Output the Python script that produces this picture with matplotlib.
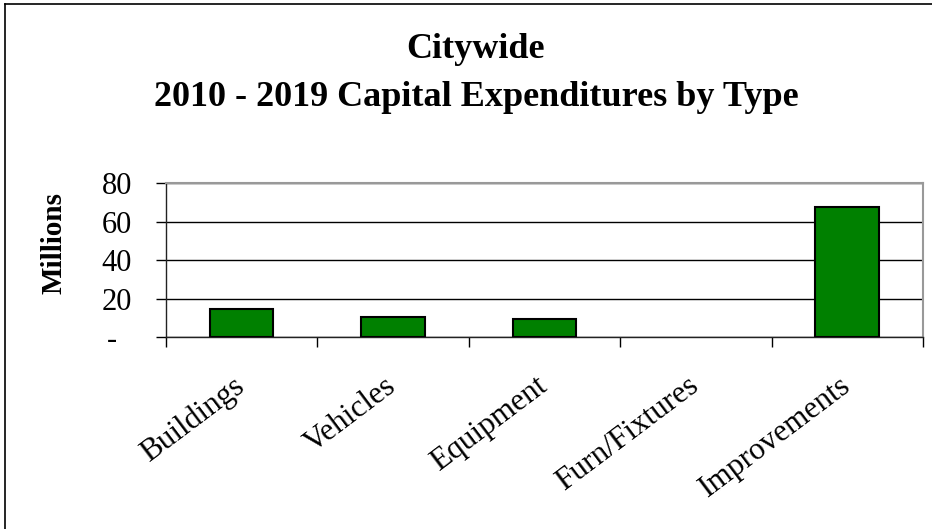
import matplotlib.pyplot as plt
from matplotlib.lines import Line2D

categories = ['Buildings', 'Vehicles', 'Equipment', 'Furn/Fixtures', 'Improvements']
values = [14.4, 10.5, 9.5, 0.0, 67.5]
y_ticks = [0, 20, 40, 60, 80]
y_tick_labels = ['-  ', '20', '40', '60', '80']

plt.rcParams['font.family'] = ['Liberation Serif', 'DejaVu Serif']

fig = plt.figure(figsize=(9.32, 5.29), dpi=100)
ax = fig.add_axes([0.1781, 0.3629, 0.8122, 0.2906])

# zero values get no visible bar
x = list(range(len(categories)))
bx = [i for i, v in zip(x, values) if v > 0]
bv = [v for v in values if v > 0]
ax.bar(bx, bv, width=0.42, color='#008000', edgecolor='black', linewidth=1.5, zorder=3)

ax.set_xlim(-0.5, len(categories) - 0.5)
ax.set_ylim(0, 80)

# gridlines
ax.set_yticks(y_ticks)
ax.set_yticklabels(y_tick_labels)
ax.grid(axis='y', color='black', linewidth=1, zorder=1)
ax.tick_params(axis='y', direction='out', length=7.5, width=1, pad=17, labelsize=22)

# category boundaries as major ticks, labels on minor ticks at centers
ax.set_xticks([i - 0.5 for i in range(len(categories) + 1)])
ax.set_xticklabels([])
ax.tick_params(axis='x', which='major', direction='out', length=7.5, width=1)
ax.set_xticks(x, categories, minor=True)
ax.tick_params(axis='x', which='minor', length=0, pad=33, labelsize=22.5)
for lab in ax.get_xticklabels(minor=True):
    lab.set_rotation(37)
    lab.set_ha('right')
    lab.set_va('center')
    lab.set_rotation_mode('anchor')

for side in ['left', 'bottom']:
    ax.spines[side].set_color('#222222')
    ax.spines[side].set_linewidth(1)
for side in ['top', 'right']:
    ax.spines[side].set_color('#999999')
    ax.spines[side].set_linewidth(1.5)

fig.text(54 / 932, 1 - 243 / 529, 'Millions', rotation=90, ha='center', va='center',
         fontsize=21, fontweight='bold')
fig.text(476 / 932, 1 - 49 / 529, 'Citywide', ha='center', va='center',
         fontsize=26, fontweight='bold')
fig.text(476 / 932, 1 - 98 / 529, '2010 - 2019 Capital Expenditures by Type', ha='center',
         va='center', fontsize=26, fontweight='bold')

# outer chart border (left and top visible)
fig.add_artist(Line2D([5 / 932, 5 / 932], [0, 1 - 4 / 529], color='black', linewidth=1.2))
fig.add_artist(Line2D([5 / 932, 1], [1 - 4 / 529, 1 - 4 / 529], color='black', linewidth=1.2))

plt.savefig('out.png', dpi=100)
plt.close()
